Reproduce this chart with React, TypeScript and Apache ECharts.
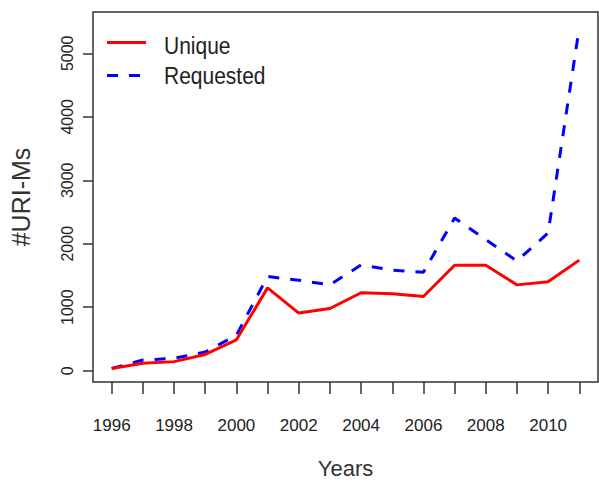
import React, { useEffect, useRef } from "react";
import * as echarts from "echarts";

const years = [1996, 1997, 1998, 1999, 2000, 2001, 2002, 2003, 2004, 2005, 2006, 2007, 2008, 2009, 2010, 2011];
const unique = [34, 116, 143, 256, 486, 1305, 908, 980, 1228, 1212, 1168, 1662, 1662, 1352, 1403, 1742];
const requested = [34, 168, 195, 294, 560, 1484, 1425, 1352, 1667, 1584, 1552, 2405, 2065, 1729, 2170, 5408];
const xTickValues = years;
const xLabelValues = [1996, 1998, 2000, 2002, 2004, 2006, 2008, 2010];
const yTickValues = [0, 1000, 2000, 3000, 4000, 5000];
const seriesNames = ["Unique", "Requested"];

export default function App() {
  const ref = useRef<HTMLDivElement>(null);
  useEffect(() => {
    if (!ref.current) return;
    const chart = echarts.init(ref.current, null, { renderer: "svg" });
    const narrow = "'Liberation Sans Narrow', 'Arial Narrow', 'Liberation Sans', Arial, sans-serif";
    const sans = "'Liberation Sans', Arial, sans-serif";
    chart.setOption({
      animation: false,
      backgroundColor: "#ffffff",
      grid: {
        left: 88,
        top: 12,
        right: 1,
        bottom: 96,
        show: true,
        borderColor: "#333333",
        borderWidth: 1.5,
        backgroundColor: "transparent",
      },
      xAxis: {
        type: "value",
        min: 1995.4,
        max: 2011.6,
        name: "Years",
        nameLocation: "middle",
        nameGap: 75,
        nameTextStyle: { fontFamily: sans, fontSize: 22, color: "#333333" },
        axisLine: { show: false, onZero: false },
        splitLine: { show: false },
        axisTick: {
          show: true,
          length: 12,
          customValues: xTickValues,
          lineStyle: { color: "#333333", width: 1.5 },
        },
        axisLabel: {
          customValues: xLabelValues,
          margin: 35,
          fontFamily: narrow,
          fontSize: 17,
          color: "#222222",
          formatter: (v: number) => String(v),
        },
      },
      yAxis: {
        type: "value",
        min: -178,
        max: 5651,
        name: "#URI-Ms",
        nameLocation: "middle",
        nameRotate: 90,
        nameGap: 60,
        nameTextStyle: { fontFamily: sans, fontSize: 25, color: "#333333" },
        axisLine: { show: false, onZero: false },
        splitLine: { show: false },
        axisTick: {
          show: true,
          length: 10,
          customValues: yTickValues,
          lineStyle: { color: "#333333", width: 1.5 },
        },
        axisLabel: {
          customValues: yTickValues,
          rotate: 90,
          margin: 18,
          fontFamily: sans,
          fontSize: 16,
          color: "#222222",
          formatter: (v: number) => String(v),
        },
      },
      series: [
        {
          name: seriesNames[1],
          type: "line",
          data: years.map((y, i) => [y, requested[i]]),
          symbol: "none",
          clip: false,
          lineStyle: { color: "#0000FF", width: 3, type: [11, 11] },
        },
        {
          name: seriesNames[0],
          type: "line",
          data: years.map((y, i) => [y, unique[i]]),
          symbol: "none",
          clip: false,
          lineStyle: { color: "#FF0000", width: 3, type: "solid" },
        },
      ],
      graphic: [
        {
          type: "line",
          shape: { x1: 107, y1: 42.5, x2: 146, y2: 42.5 },
          style: { stroke: "#FF0000", lineWidth: 3 },
        },
        {
          type: "line",
          shape: { x1: 107, y1: 75.5, x2: 146, y2: 75.5 },
          style: { stroke: "#0000FF", lineWidth: 3, lineDash: [11, 11] },
        },
        {
          type: "text",
          x: 164,
          y: 46,
          scaleY: 1.15,
          style: {
            text: seriesNames[0],
            fontFamily: sans,
            fontSize: 21,
            fill: "#222222",
            verticalAlign: "middle",
            align: "left",
          },
        },
        {
          type: "text",
          x: 164,
          y: 76,
          scaleY: 1.15,
          style: {
            text: seriesNames[1],
            fontFamily: sans,
            fontSize: 21,
            fill: "#222222",
            verticalAlign: "middle",
            align: "left",
          },
        },
      ],
    });
    return () => chart.dispose();
  }, []);
  return (
    <div
      ref={ref}
      style={{ position: "fixed", left: 0, top: 0, width: 599, height: 484, background: "#fff" }}
    />
  );
}
